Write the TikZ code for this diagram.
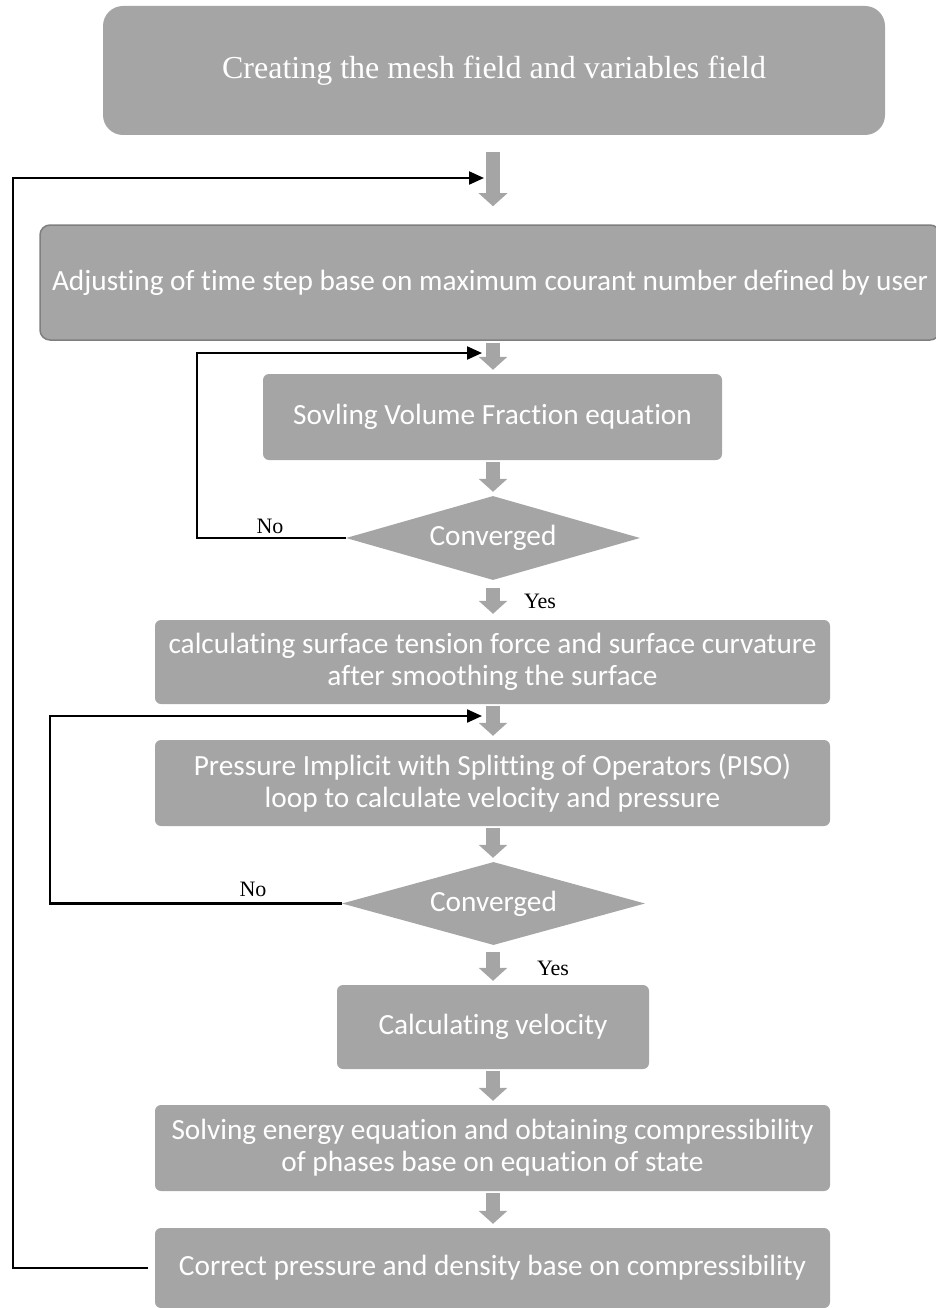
\documentclass[tikz,border=0pt]{standalone}
\usepackage{fontspec}
\setmainfont{Liberation Serif}
\newfontfamily\carl[Ligatures=NoCommon]{Carlito}
\usetikzlibrary{arrows.meta,shapes.geometric,calc}
\definecolor{boxgray}{HTML}{A5A5A5}
\definecolor{edgegray}{HTML}{7F7F7F}
\begin{document}
\begin{tikzpicture}[x=1pt,y=-1pt,
 box/.style={fill=boxgray, rounded corners=6pt, inner sep=0pt, text=white,
   font=\carl\fontsize{29.3}{32}\selectfont, align=center},
 dia/.style={diamond, fill=boxgray, inner sep=0pt, aspect=3.5, text=white,
   font=\carl\fontsize{29.3}{32}\selectfont},
 blk/.style={draw=boxgray, line width=14pt, -{Triangle[width=28pt,length=13pt]},
   shorten <=2pt, shorten >=4pt},
 loopline/.style={draw=black, line width=2.2pt, -{Triangle[width=13pt,length=15pt]}},
 lbl/.style={font=\fontsize{22}{24}\selectfont, inner sep=0pt}]
\useasboundingbox (0,0) rectangle (936,1308);

\node[box, rounded corners=20pt, minimum width=782pt, minimum height=129pt,
  font=\fontsize{32}{36}\selectfont] (top) at (494,70.5)
  {Creating the mesh field and variables field};
\node[box, draw=edgegray, line width=1.5pt, rounded corners=10pt,
  minimum width=900pt, minimum height=115pt] (adj) at (490,282.5)
  {Adjusting of time step base on maximum courant number defined by user};
\node[box, minimum width=459pt, minimum height=86pt] (vol) at (492.5,417)
  {Sovling Volume Fraction equation};
\node[dia, minimum width=294pt, minimum height=84pt] (d1) at (493,538) {Converged};
\node[box, minimum width=675pt, minimum height=84pt] (surf) at (492.5,662)
  {calculating surface tension force and surface curvature\\after smoothing the surface};
\node[box, minimum width=675pt, minimum height=86pt] (piso) at (492.5,783)
  {Pressure Implicit with Splitting of Operators (PISO)\\loop to calculate velocity and pressure};
\node[dia, minimum width=303pt, minimum height=83pt] (d2) at (493.5,903.5) {Converged};
\node[box, minimum width=312pt, minimum height=84pt] (vel) at (493,1027)
  {Calculating velocity};
\node[box, minimum width=675pt, minimum height=86pt] (energy) at (492.5,1148)
  {Solving energy equation and obtaining compressibility\\of phases base on equation of state};
\node[box, minimum width=675pt, minimum height=80pt] (corr) at (492.5,1268)
  {Correct pressure and density base on compressibility};

% block arrows (kept vertical on x = 493)
\draw[blk, shorten <=17pt, shorten >=18pt] (d1.center |- top.south) -- (d1.center |- adj.north);
\draw[blk] (d1.center |- adj.south) -- (d1.center |- vol.north);
\draw[blk] (d1.center |- vol.south) -- (d1.north);
\draw[blk, shorten <=8pt, shorten >=6pt] (d1.south) -- (d1.center |- surf.north);
\draw[blk] (d1.center |- surf.south) -- (d1.center |- piso.north);
\draw[blk] (d1.center |- piso.south) -- (d1.center |- d2.north);
\draw[blk, shorten <=7pt] (d1.center |- d2.south) -- (d1.center |- vel.north);
\draw[blk] (d1.center |- vel.south) -- (d1.center |- energy.north);
\draw[blk] (d1.center |- energy.south) -- (d1.center |- corr.north);

% loops
\coordinate (j1l) at (13,178);
\coordinate (j1) at (484,178);
\coordinate (j2l) at (197,353);
\coordinate (j2) at (482,353);
\coordinate (j3l) at (50,716);
\coordinate (j3) at (482,716);
\draw[loopline, shorten <=7pt] (corr.west) -| (j1l) -- (j1);
\draw[loopline] (d1.west) -| (j2l) -- (j2);
\draw[loopline] (d2.west) -| (j3l) -- (j3);

\node[lbl] (no1) at (270,526) {No};
\node[lbl] (yes1) at (540,601) {Yes};
\node[lbl] (no2) at (253,889) {No};
\node[lbl] (yes2) at (553,968) {Yes};
\end{tikzpicture}
\end{document}
